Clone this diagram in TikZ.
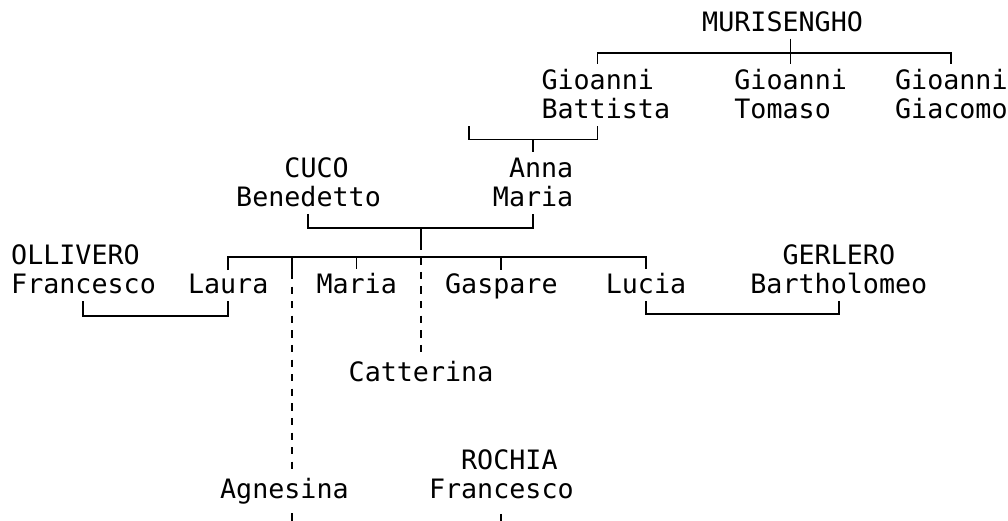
\documentclass[tikz,border=0pt]{standalone}
\usepackage{fontspec}
\newfontfamily\treefont{DejaVu Sans Mono}

\begin{document}
\begin{tikzpicture}[x=1pt, y=-1pt,
    % names on a monospaced grid (one column = 16.07pt)
    % two-line names are placed by the baseline of their last line
    person/.style={font={\fontsize{26.7}{29.2}\selectfont\treefont},
        inner sep=0pt, anchor=base west, align=left},
    link/.style={line width=1.8pt},
    uncertain/.style={line width=1.8pt, dash pattern=on 7.3pt off 7.3pt}
]
\useasboundingbox (0,0) rectangle (1008,520);
\clip (0,0) rectangle (1008,520);

% The people
\node[person] (mur) at (702,31) {MURISENGHO};
\node[person] (gbat) at (541.3,118.6) {Gioanni\\Battista};
\node[person] (gtom) at (734.2,118.6) {Gioanni\\Tomaso};
\node[person] (ggia) at (894.9,118.6) {Gioanni\\Giacomo};
\node[person] (cuco) at (236,206.2) {\hphantom{Ben}CUCO\\Benedetto};
\node[person, anchor=base east, align=right] (anna) at (573.5,206.2) {Anna\\Maria};
\node[person] (olli) at (11,293.8) {OLLIVERO\\Francesco};
\node[person] (laura) at (187.8,293.8) {Laura};
\node[person] (maria) at (316.3,293.8) {Maria};
\node[person] (gasp) at (444.9,293.8) {Gaspare};
\node[person] (lucia) at (605.6,293.8) {Lucia};
\node[person, align=center] (gerl) at (750.2,293.8) {GERLERO\\Bartholomeo};
\node[person] (catt) at (348.5,381.4) {Catterina};
\node[person] (agne) at (219.9,498.2) {Agnesina};
\node[person] (roch) at (428.8,498.2) {\hphantom{Fr}ROCHIA\\Francesco};

% MURISENGHO and his sons
\coordinate (m1) at (597.5,52.9);
\coordinate (m2) at (790.4,52.9);
\coordinate (m3) at (951.1,52.9);
\draw[link, shorten <=5pt, shorten >=5pt] (m1 |- gbat.north) -- (m1) -- (m3) -- (m3 |- ggia.north);
\draw[link, shorten <=7pt, shorten >=5pt] (m2 |- mur.south) -- (m2 |- gtom.north);

% Gioanni Battista and Anna Maria
\coordinate (u1) at (469,125.8);
\coordinate (a1) at (469,139.5);
\coordinate (a2) at (533.2,139.5);
\coordinate (a3) at (597.5,139.5);
\draw[link, shorten <=7pt] (a3 |- gbat.south) -- (a3) -- (a1) -- (u1);
\draw[link, shorten >=5pt] (a2) -- (a2 |- anna.north);

% CUCO Benedetto and Anna Maria
\coordinate (c1) at (308.3,228.1);
\coordinate (c2) at (420.8,228.1);
\coordinate (c3) at (533.2,228.1);
\coordinate (c4) at (420.8,242.6);
\draw[link, shorten <=7pt, shorten >=7pt] (c1 |- cuco.south) -- (c1) -- (c3) -- (c3 |- anna.south);
\draw[link] (c2) -- (c4);

% their children
\coordinate (k1) at (227.9,257.3);
\coordinate (k2) at (292.2,257.3);
\coordinate (k3) at (356.5,257.3);
\coordinate (k4) at (420.8,257.3);
\coordinate (k5) at (501.1,257.3);
\coordinate (k6) at (645.7,257.3);
\coordinate (k7) at (292.2,271.9);
\draw[link, shorten <=4pt, shorten >=4pt] (k1 |- laura.north) -- (k1) -- (k6) -- (k6 |- lucia.north);
\draw[link, shorten >=4pt] (k3) -- (k3 |- maria.north);
\draw[link, shorten >=4pt] (k5) -- (k5 |- gasp.north);
\draw[link] (k2) -- (k7);
\draw[uncertain, shorten >=6pt] (k7) -- (k7 |- agne.north);
\draw[uncertain, shorten >=6pt] (c4) -- (c4 |- catt.north);

% Laura and OLLIVERO Francesco
\coordinate (o1) at (83.3,315.7);
\coordinate (o2) at (227.9,315.7);
\draw[link, shorten <=7pt, shorten >=7pt] (o1 |- olli.south) -- (o1) -- (o2) -- (o2 |- laura.south);

% Lucia and GERLERO Bartholomeo
\coordinate (l1) at (645.7,314);
\coordinate (l2) at (838.6,314);
\draw[link, shorten <=7pt, shorten >=7pt] (l1 |- lucia.south) -- (l1) -- (l2) -- (l2 |- gerl.south);

% Agnesina and ROCHIA Francesco
\coordinate (r1) at (292.2,530);
\coordinate (r2) at (501.1,530);
\draw[link, shorten <=9pt] (r1 |- agne.south) -- (r1);
\draw[link, shorten <=15pt] (r2 |- roch.south) -- (r2);

\end{tikzpicture}
\end{document}
